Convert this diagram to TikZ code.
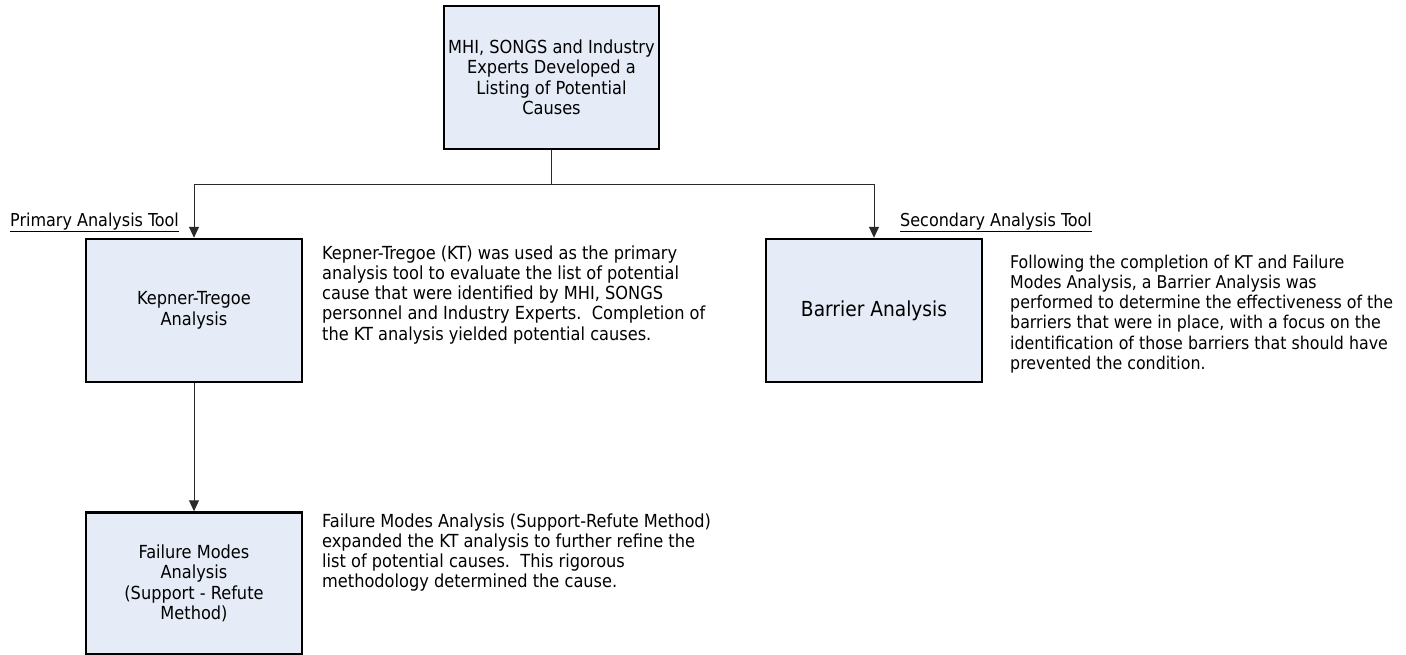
\documentclass[tikz,border=0pt]{standalone}
\usepackage{fontspec}
\setmainfont{DejaVu Sans Condensed}
\usetikzlibrary{positioning, arrows.meta}
\definecolor{boxfill}{HTML}{E5ECF7}
\definecolor{wire}{HTML}{2A2A2A}
\tikzset{
  stepbox/.style = {rectangle, draw=black, line width=2.5pt, fill=boxfill,
                    minimum width=216pt, minimum height=143pt, inner sep=0pt,
                    align=center, font=\fontsize{18}{20.5}\selectfont},
  note/.style    = {anchor=base west, inner sep=0pt, align=left,
                    font=\fontsize{18}{20.3}\selectfont},
  tag/.style     = {anchor=base west, inner sep=0pt,
                    font=\fontsize{17.8}{20}\selectfont},
  ar/.style      = {-{Triangle[length=11pt,width=10pt]}, line width=1pt, draw=wire},
}

\begin{document}
\begin{tikzpicture}[x=1pt, y=-1pt]
  \useasboundingbox (0,0) rectangle (1406,654);

  % the boxes
  \node[stepbox, minimum width=215pt] (causes) at (551.5,77.5)
       {MHI, SONGS and Industry\\Experts Developed a\\Listing of Potential\\Causes};
  \node[stepbox] (kt) at (194,310.5) {Kepner-Tregoe\\Analysis};
  \node[stepbox, font=\fontsize{20.7}{24}\selectfont] (barrier) at (874,310.5) {Barrier Analysis};
  \node[stepbox, minimum height=142pt] (fm) at (194,583.5)
       {Failure Modes\\Analysis\\(Support - Refute\\Method)};

  % connectors
  \coordinate (split) at ([yshift=-34pt]causes.south);
  \draw[wire, line width=1pt] (causes.south) -- (split);
  \draw[ar] (split) -| (kt.north);
  \draw[ar] (split) -| (barrier.north);
  \draw[ar] (kt.south) -- (fm.north);

  % tool headings
  \node[tag] (primary) at (10,226) {\underline{Primary Analysis Tool}};
  \node[tag] (secondary) at (900,226) {\underline{Secondary Analysis Tool}};

  % descriptions (anchored on the baseline of the last line)
  \node[note] (ktnote) at (322,340.2)
       {Kepner-Tregoe (KT) was used as the primary\\
        analysis tool to evaluate the list of potential\\
        cause that were identified by MHI, SONGS\\
        personnel and Industry Experts.\ \ Completion of\\
        the KT analysis yielded potential causes.};
  \node[note, font=\fontsize{17.6}{20.3}\selectfont] (barriernote) at (1010,369.5)
       {Following the completion of KT and Failure\\
        Modes Analysis, a Barrier Analysis was\\
        performed to determine the effectiveness of the\\
        barriers that were in place, with a focus on the\\
        identification of those barriers that should have\\
        prevented the condition.};
  \node[note] (fmnote) at (322,587.9)
       {Failure Modes Analysis (Support-Refute Method)\\
        expanded the KT analysis to further refine the\\
        list of potential causes.\ \ This rigorous\\
        methodology determined the cause.};
\end{tikzpicture}
\end{document}
